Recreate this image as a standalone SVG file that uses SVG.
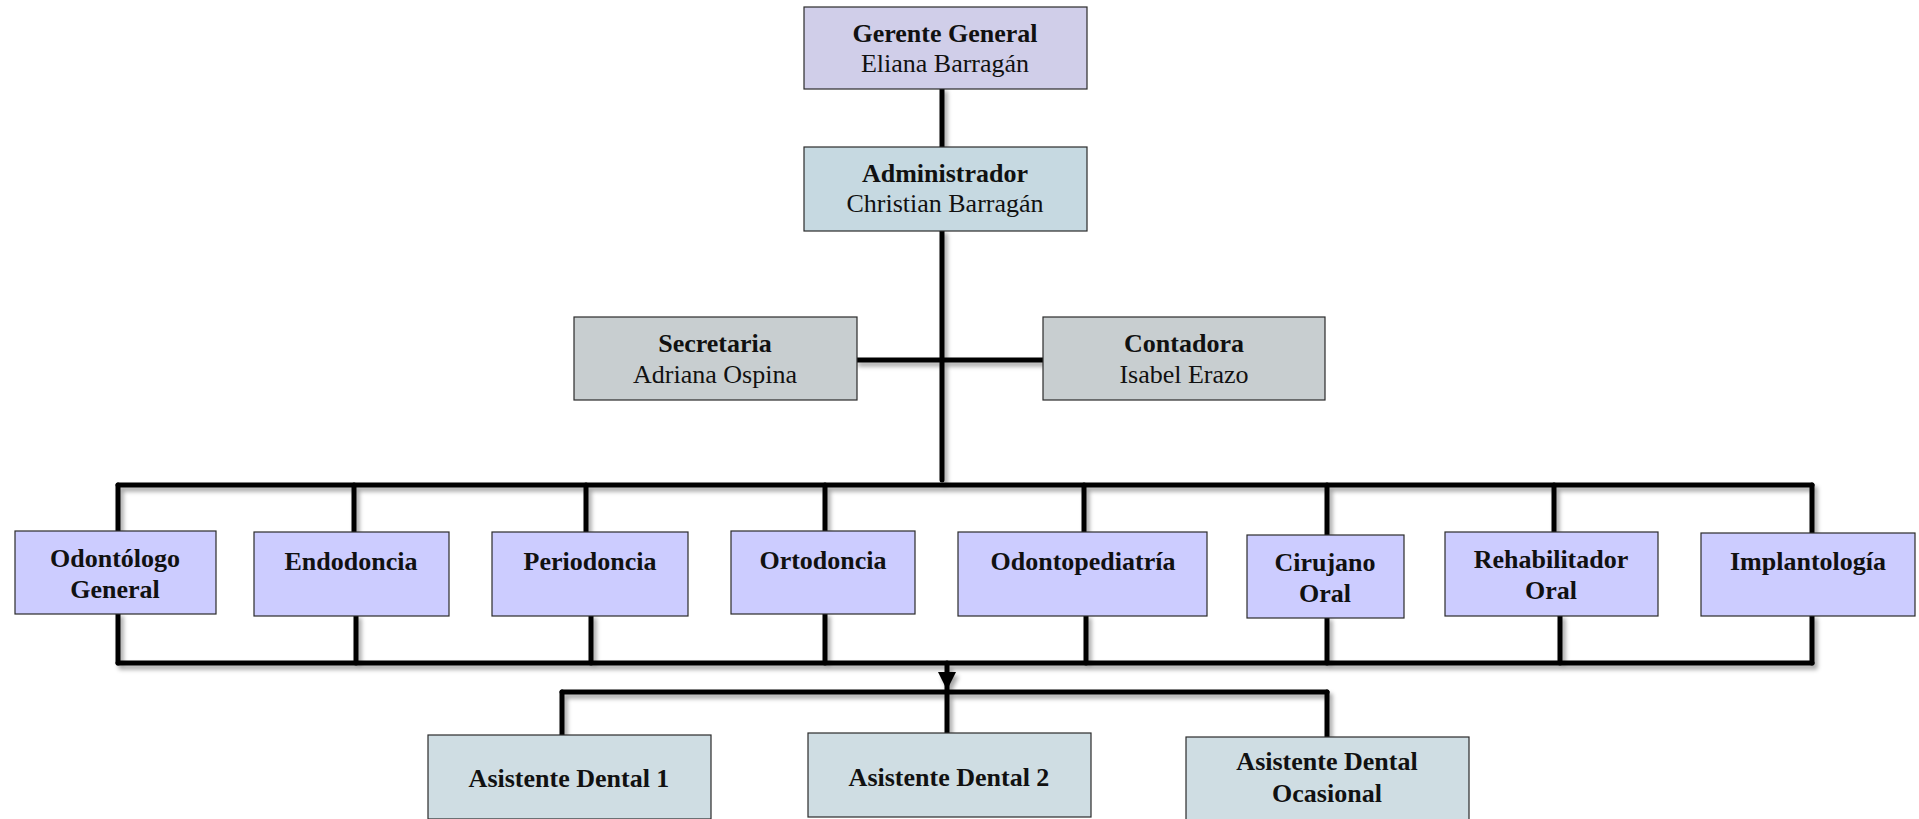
<svg xmlns="http://www.w3.org/2000/svg" width="1919" height="819" viewBox="0 0 1919 819">
<style>
  .box { stroke: #2b2b2b; stroke-width: 1.2; }
  .gerente { fill: #D0CEE9; }
  .admin { fill: #C6D9E1; }
  .staff { fill: #C8CED0; }
  .spec { fill: #CCCCFF; }
  .asist { fill: #CFDDE3; }
  text { font-family: "Liberation Serif", "Times New Roman", serif; font-size: 26px; fill: #111; text-anchor: middle; }
  .b { font-weight: bold; }
  .conn line, .conn polyline { stroke: #000; stroke-width: 5; fill: none; stroke-linecap: round; stroke-linejoin: round; }
</style>
<defs>
  <filter id="sh" filterUnits="userSpaceOnUse" x="0" y="0" width="1919" height="819">
    <feDropShadow dx="3" dy="4" stdDeviation="2" flood-color="#000" flood-opacity="0.35"/>
  </filter>
</defs>
<rect x="0" y="0" width="1919" height="819" fill="#fff"/>

<g id="connectors" class="conn" filter="url(#sh)">
  <line x1="942" y1="89" x2="942" y2="147"/>
  <line x1="942" y1="231" x2="942" y2="480"/>
  <line x1="857" y1="360" x2="1043" y2="360"/>
  <line x1="118" y1="485" x2="1812" y2="485"/>
  <line x1="118" y1="485" x2="118" y2="531"/>
  <line x1="354" y1="485" x2="354" y2="532"/>
  <line x1="586" y1="485" x2="586" y2="532"/>
  <line x1="825" y1="485" x2="825" y2="531"/>
  <line x1="1084" y1="485" x2="1084" y2="532"/>
  <line x1="1327" y1="485" x2="1327" y2="535"/>
  <line x1="1554" y1="485" x2="1554" y2="532"/>
  <line x1="1812" y1="485" x2="1812" y2="533"/>
  <line x1="118" y1="614" x2="118" y2="663"/>
  <line x1="356" y1="616" x2="356" y2="663"/>
  <line x1="591" y1="616" x2="591" y2="663"/>
  <line x1="825" y1="614" x2="825" y2="663"/>
  <line x1="1086" y1="616" x2="1086" y2="663"/>
  <line x1="1327" y1="618" x2="1327" y2="663"/>
  <line x1="1560" y1="616" x2="1560" y2="663"/>
  <line x1="1812" y1="616" x2="1812" y2="663"/>
  <line x1="118" y1="663" x2="1812" y2="663"/>
  <line x1="947" y1="663" x2="947" y2="734"/>
  <polygon points="938,672 956,672 947,690" fill="#000" stroke="none"/>
  <line x1="562" y1="692" x2="1327" y2="692"/>
  <line x1="562" y1="692" x2="562" y2="735"/>
  <line x1="1327" y1="692" x2="1327" y2="737"/>
</g>

<g id="gerente">
  <rect class="box gerente" x="804" y="7" width="283" height="82"/>
  <text class="b" x="945" y="42">Gerente General</text>
  <text x="945" y="72">Eliana Barragán</text>
</g>
<g id="administrador">
  <rect class="box admin" x="804" y="147" width="283" height="84"/>
  <text class="b" x="945" y="182">Administrador</text>
  <text x="945" y="212">Christian Barragán</text>
</g>
<g id="secretaria">
  <rect class="box staff" x="574" y="317" width="283" height="83"/>
  <text class="b" x="715" y="352">Secretaria</text>
  <text x="715" y="383">Adriana Ospina</text>
</g>
<g id="contadora">
  <rect class="box staff" x="1043" y="317" width="282" height="83"/>
  <text class="b" x="1184" y="352">Contadora</text>
  <text x="1184" y="383">Isabel Erazo</text>
</g>

<g id="odontologo">
  <rect class="box spec" x="15" y="531" width="201" height="83"/>
  <text class="b" x="115" y="567">Odontólogo</text>
  <text class="b" x="115" y="598">General</text>
</g>
<g id="endodoncia">
  <rect class="box spec" x="254" y="532" width="195" height="84"/>
  <text class="b" x="351" y="570">Endodoncia</text>
</g>
<g id="periodoncia">
  <rect class="box spec" x="492" y="532" width="196" height="84"/>
  <text class="b" x="590" y="570">Periodoncia</text>
</g>
<g id="ortodoncia">
  <rect class="box spec" x="731" y="531" width="184" height="83"/>
  <text class="b" x="823" y="569">Ortodoncia</text>
</g>
<g id="odontopediatria">
  <rect class="box spec" x="958" y="532" width="249" height="84"/>
  <text class="b" x="1083" y="570">Odontopediatría</text>
</g>
<g id="cirujano">
  <rect class="box spec" x="1247" y="535" width="157" height="83"/>
  <text class="b" x="1325" y="571">Cirujano</text>
  <text class="b" x="1325" y="602">Oral</text>
</g>
<g id="rehabilitador">
  <rect class="box spec" x="1445" y="532" width="213" height="84"/>
  <text class="b" x="1551" y="568">Rehabilitador</text>
  <text class="b" x="1551" y="599">Oral</text>
</g>
<g id="implantologia">
  <rect class="box spec" x="1701" y="533" width="214" height="83"/>
  <text class="b" x="1808" y="570">Implantología</text>
</g>

<g id="asistente1">
  <rect class="box asist" x="428" y="735" width="283" height="84"/>
  <text class="b" x="569" y="787">Asistente Dental 1</text>
</g>
<g id="asistente2">
  <rect class="box asist" x="808" y="733" width="283" height="84"/>
  <text class="b" x="949" y="786">Asistente Dental 2</text>
</g>
<g id="asistente-ocasional">
  <rect class="box asist" x="1186" y="737" width="283" height="84"/>
  <text class="b" x="1327" y="770">Asistente Dental</text>
  <text class="b" x="1327" y="802">Ocasional</text>
</g>
</svg>
